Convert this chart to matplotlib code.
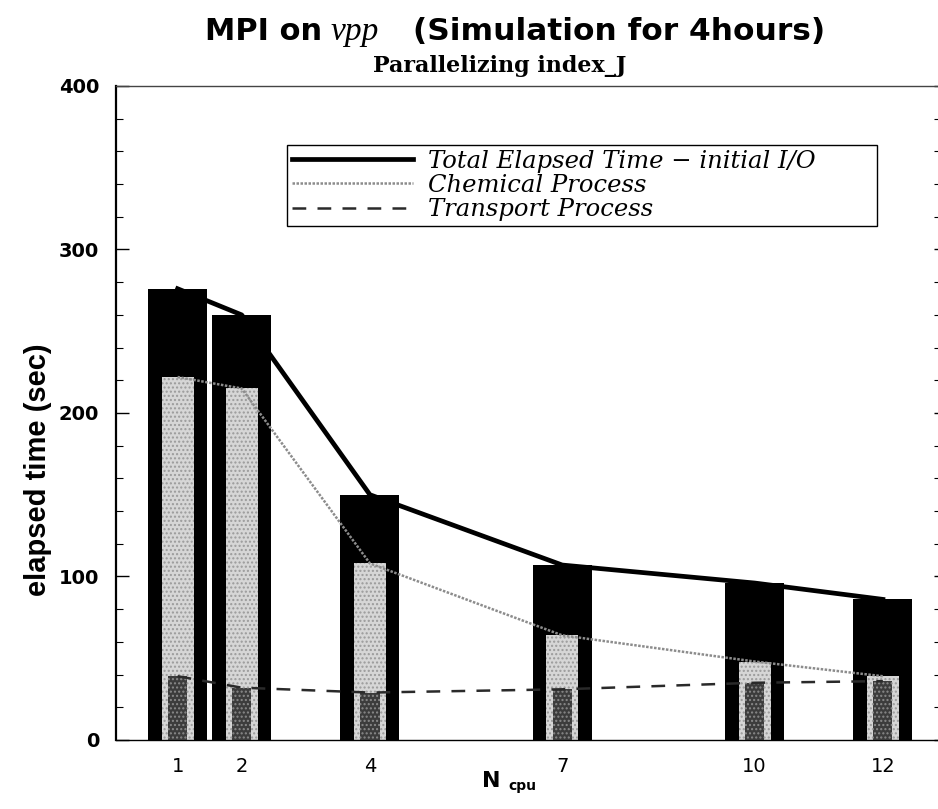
''' Elapsed time of MPI run on vpp for different numbers of cpu '''

import matplotlib
matplotlib.use("Agg")
import matplotlib.pyplot as plt

ncpu = [1, 2, 4, 7, 10, 12]
total_time = [276, 260, 150, 107, 96, 86]
chemical_time = [222, 215, 108, 64, 48, 39]
transport_time = [39, 32, 29, 31, 35, 36]
tick_labels = ["1", "2", "4", "7", "10", "12"]

legend_labels = ["Total Elapsed Time \u2212 initial I/O",
                 "Chemical Process",
                 "Transport Process"]


def plot_elapsed():
    fig = plt.figure(figsize=(9.38, 8.09), dpi=100)
    ax = fig.add_axes([0.1237, 0.0853, 0.8763, 0.8084])

    # bars drawn one inside the other
    ax.bar(ncpu, total_time, width=0.92, color="black", zorder=1)
    ax.bar(ncpu, chemical_time, width=0.5, color="#d6d6d6",
           hatch="....", edgecolor="#9a9a9a", linewidth=0, zorder=2)
    ax.bar(ncpu, transport_time, width=0.3, color="#3c3c3c",
           hatch="....", edgecolor="#8a8a8a", linewidth=0, zorder=3)

    l1, = ax.plot(ncpu, total_time, color="black", lw=3.4, zorder=5)
    l2, = ax.plot(ncpu, chemical_time, color="#8c8c8c", lw=1.8,
                  linestyle=(0, (1, 0.6)), zorder=5)
    l3, = ax.plot(ncpu, transport_time, color="#2a2a2a", lw=1.8,
                  linestyle=(0, (5.5, 4.5)), zorder=5)

    ax.set_xlim(0.04, 12.86)
    ax.set_ylim(0, 400)
    ax.set_xticks(ncpu)
    ax.set_xticklabels(tick_labels, fontsize=14, family="DejaVu Sans")
    ax.tick_params(axis="x", length=0, pad=12)
    ax.set_yticks([0, 100, 200, 300, 400])
    ax.set_yticks(range(0, 401, 20), minor=True)
    ax.tick_params(axis="y", which="major", direction="in", length=9,
                   width=1, pad=12, labelsize=14)
    ax.tick_params(axis="y", which="minor", direction="in", length=5,
                   width=0.8)
    ax.tick_params(axis="y", which="both", right=True)
    for lab in ax.get_yticklabels():
        lab.set_fontweight("bold")
        lab.set_family("DejaVu Sans")
    # right side ticks are only short marks in the original
    for t in ax.yaxis.get_major_ticks() + ax.yaxis.get_minor_ticks():
        t.tick2line.set_markersize(3)

    ax.spines["right"].set_visible(False)
    ax.spines["left"].set_linewidth(1.6)
    ax.spines["top"].set_linewidth(1.0)
    ax.spines["top"].set_color("#444444")
    ax.spines["bottom"].set_linewidth(1.0)

    leg = ax.legend([l1, l2, l3], legend_labels, loc="upper left",
                    bbox_to_anchor=(0.208, 0.780, 0.718, 0.130),
                    mode="expand", fancybox=False,
                    edgecolor="black", framealpha=1, handlelength=5.0,
                    borderpad=0.2, labelspacing=0.05, handletextpad=0.6,
                    borderaxespad=0,
                    prop={"family": "DejaVu Serif", "style": "italic",
                          "size": 17.5})
    leg.get_frame().set_linewidth(1.0)

    # title made of pieces because of mixed fonts
    fig.text(0.219, 0.950, "MPI on", fontsize=22, fontweight="bold",
             family="DejaVu Sans", va="baseline")
    fig.text(0.352, 0.950, "vpp", fontsize=24, style="italic",
             family="Liberation Serif", va="baseline")
    fig.text(0.440, 0.950, "(Simulation for 4hours)", fontsize=22.5,
             fontweight="bold", family="DejaVu Sans", va="baseline")
    fig.text(0.533, 0.911, "Parallelizing index_J", fontsize=16,
             fontweight="bold", family="DejaVu Serif", ha="center",
             va="baseline")

    fig.text(0.040, 0.42, "elapsed time (sec)", fontsize=21,
             fontweight="bold", rotation=90, ha="center", va="center",
             family=["Liberation Sans Narrow", "Liberation Sans"])
    fig.text(0.514, 0.027, "N", fontsize=16, fontweight="bold",
             family="DejaVu Sans", va="baseline")
    fig.text(0.542, 0.024, "cpu", fontsize=10, fontweight="bold",
             family="DejaVu Sans", va="baseline")

    fig.savefig("out.png", dpi=100)


if __name__ == "__main__":
    plot_elapsed()
